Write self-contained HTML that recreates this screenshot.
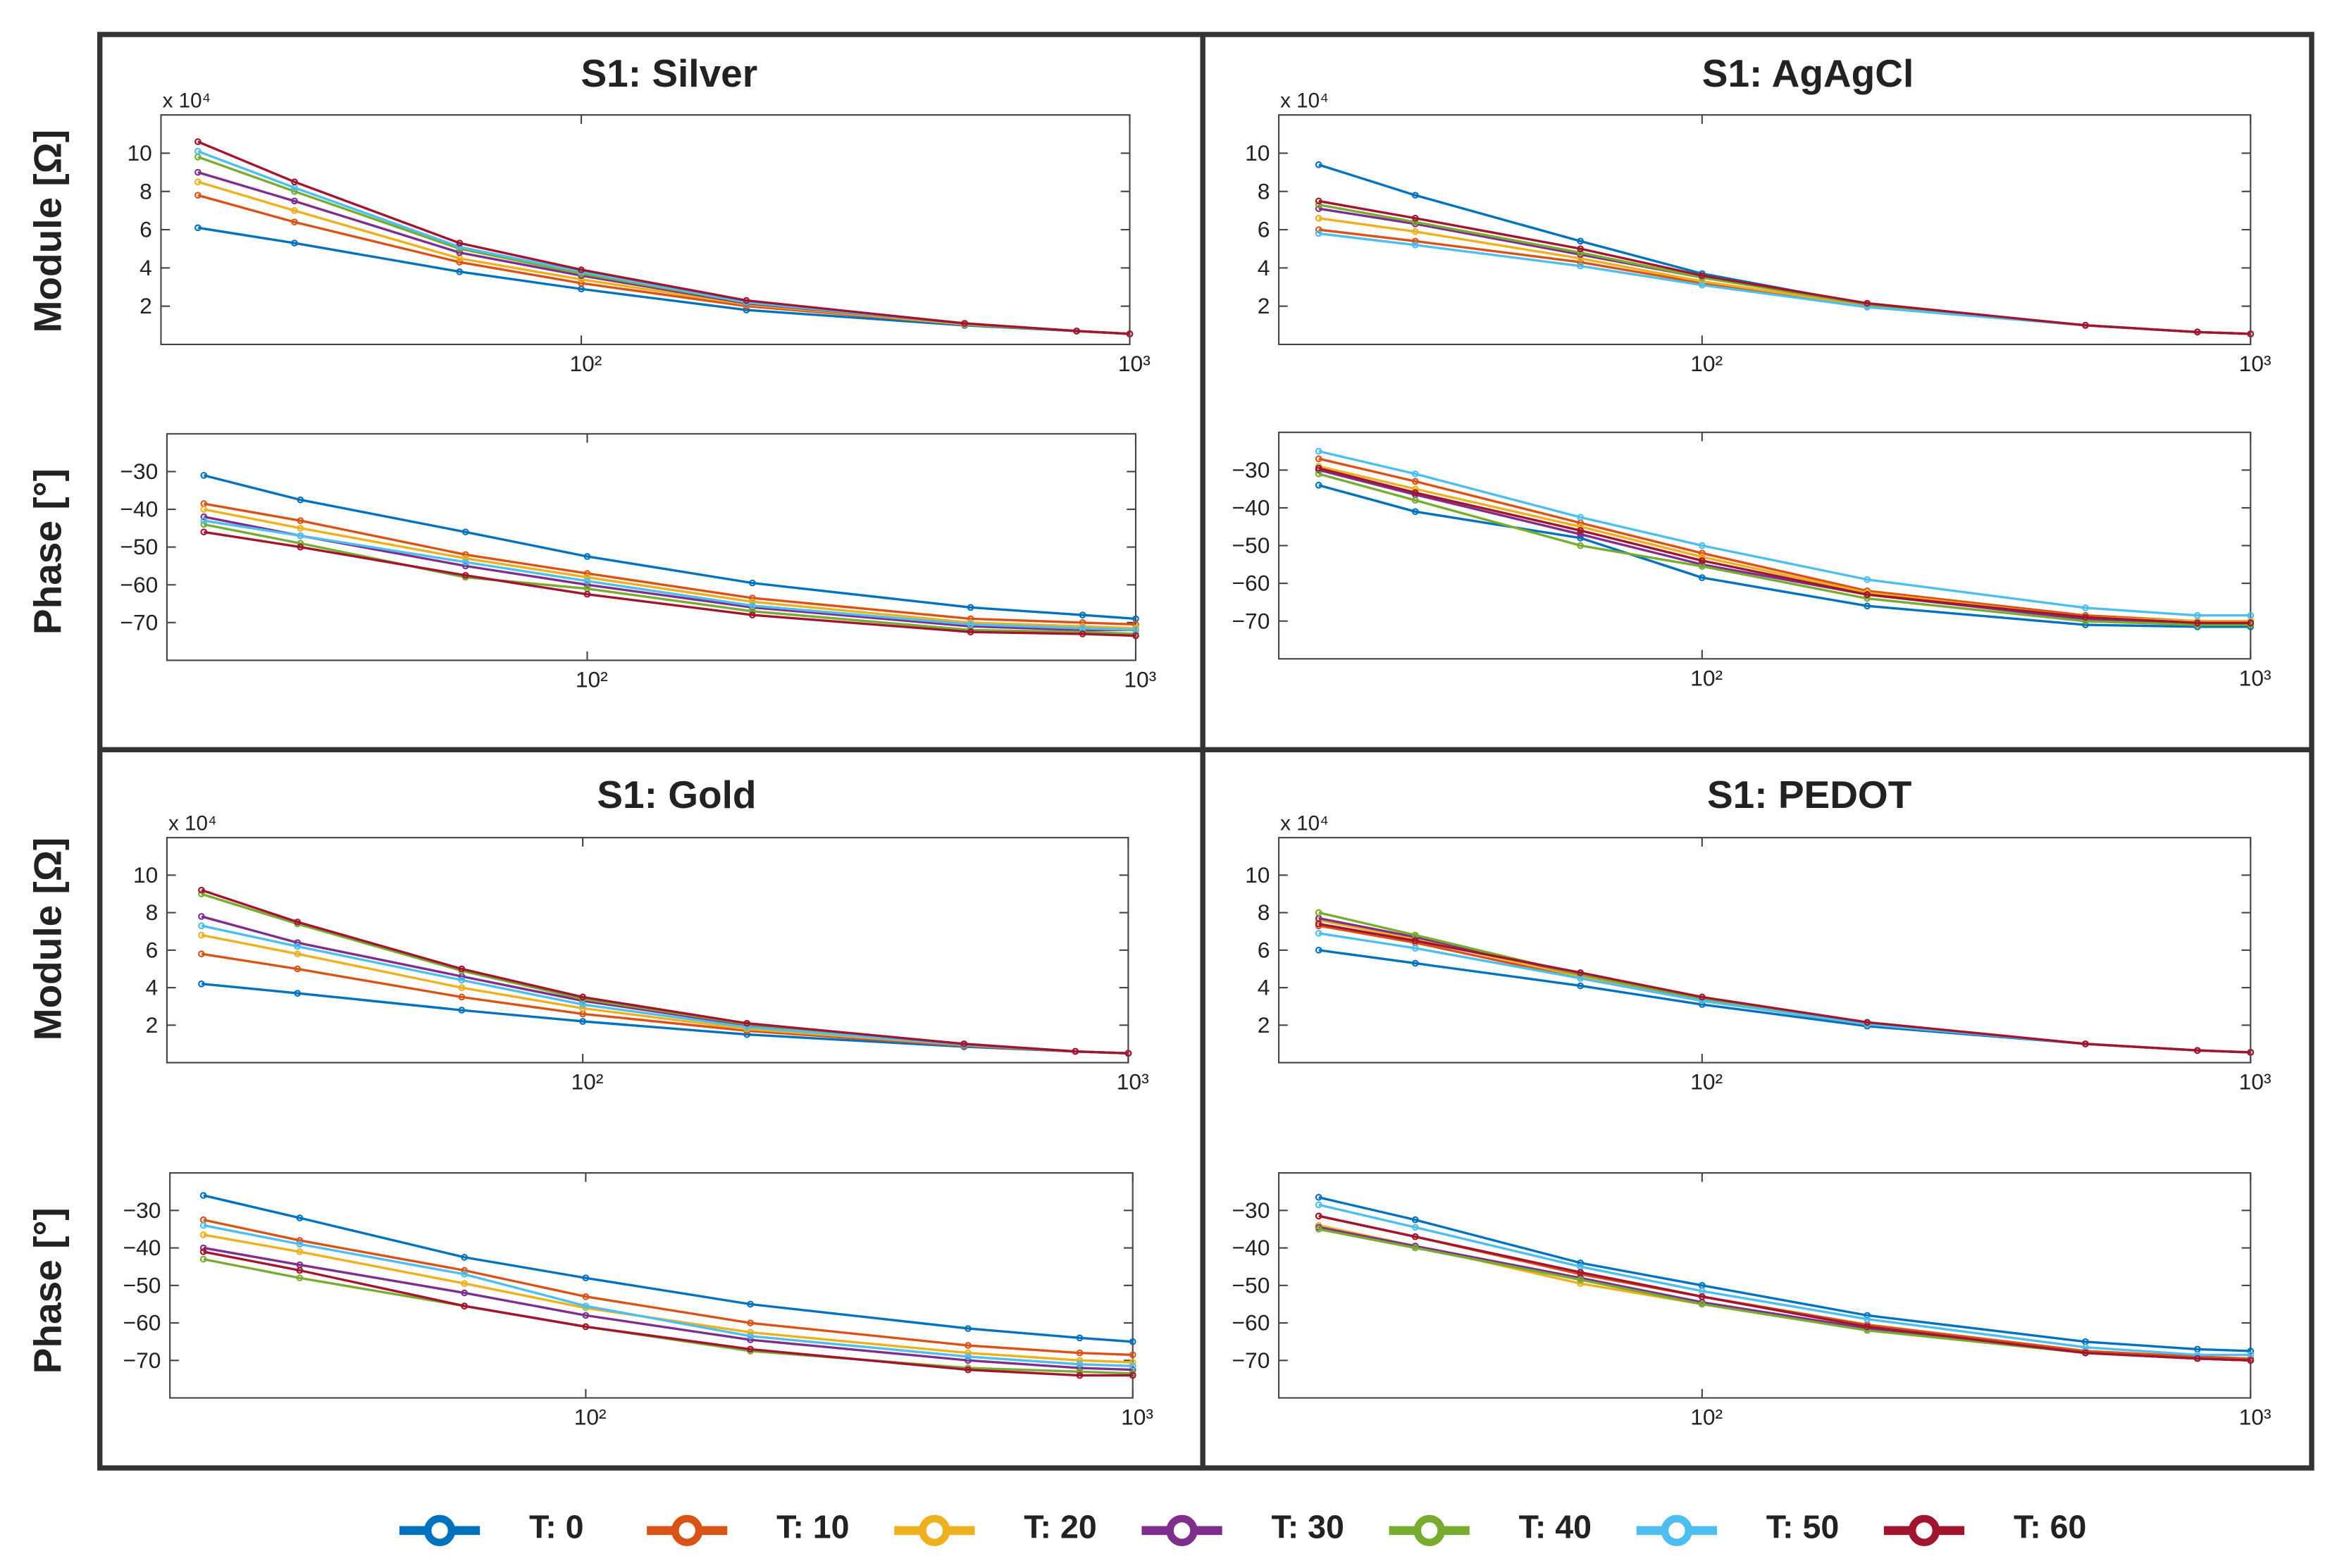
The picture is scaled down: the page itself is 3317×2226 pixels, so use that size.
<!DOCTYPE html>
<html><head><meta charset="utf-8"><style>
html,body{margin:0;padding:0;background:#fff;}
svg{display:block;font-family:"Liberation Sans",sans-serif;}
</style></head><body>
<svg id="chart" width="3317" height="2226" viewBox="0 0 1568 1052" xmlns="http://www.w3.org/2000/svg">
<rect x="0" y="0" width="1568" height="1052" fill="#fff"/>
<g id="frame" fill="none" stroke="#333" stroke-width="3.5">
<rect x="67" y="23" width="1484" height="962"/>
<line x1="807" y1="23" x2="807" y2="985"/>
<line x1="67" y1="503" x2="1551" y2="503"/>
</g>
<g id="plots"></g>
<g id="legend"></g>
</svg>
<script>
const freqs = [20, 30, 60, 100, 200, 500, 800, 1000];
const seriesNames = ["T: 0","T: 10","T: 20","T: 30","T: 40","T: 50","T: 60"];
const colors = ["#0072BD","#D95319","#EDB120","#7E2F8E","#77AC30","#4DBEEE","#A2142F"];
const moduleTicks = [2,4,6,8,10];
const phaseTicks = [-30,-40,-50,-60,-70];
const xTicks = [100, 1000];
const xTickLabels = ["10²","10³"];

const silverModule = [
[6.1,5.3,3.8,2.9,1.8,1.0,0.7,0.55],
[7.8,6.4,4.3,3.2,2.0,1.05,0.7,0.55],
[8.5,7.0,4.5,3.4,2.1,1.05,0.7,0.55],
[9.0,7.5,4.8,3.6,2.15,1.1,0.7,0.55],
[9.8,8.0,5.0,3.7,2.2,1.1,0.7,0.55],
[10.1,8.2,5.1,3.8,2.2,1.1,0.7,0.55],
[10.6,8.5,5.3,3.9,2.3,1.1,0.7,0.55]];
const silverPhase = [
[-31,-37.5,-46,-52.5,-59.5,-66,-68,-69],
[-38.5,-43,-52,-57,-63.5,-69,-70,-70.5],
[-40,-45,-53,-58,-64.5,-70,-71,-71.5],
[-42,-47,-55,-60,-66,-71,-72,-72],
[-44,-49,-58,-61,-67,-72,-72.5,-73],
[-43,-47,-54,-59,-65.5,-70.5,-71.5,-72],
[-46,-50,-57.5,-62.5,-68,-72.5,-73,-73.5]];
const agModule = [
[9.4,7.8,5.4,3.7,2.1,1.0,0.65,0.55],
[6.0,5.4,4.3,3.2,2.0,1.0,0.65,0.55],
[6.6,5.9,4.5,3.3,2.05,1.0,0.65,0.55],
[7.1,6.3,4.7,3.5,2.1,1.0,0.65,0.55],
[7.3,6.4,4.8,3.5,2.1,1.0,0.65,0.55],
[5.8,5.2,4.1,3.1,1.95,1.0,0.65,0.55],
[7.5,6.6,5.0,3.6,2.15,1.0,0.65,0.55]];
const agPhase = [
[-34,-41,-48,-58.5,-66,-71,-71.5,-71.5],
[-27,-33,-44,-52,-62,-68.5,-70,-70],
[-29,-35,-45,-53,-62.5,-69,-70,-70],
[-30,-36.5,-47,-55,-63,-69.5,-70.5,-70.5],
[-31,-38,-50,-55.5,-64,-70,-71,-71],
[-25,-31,-42.5,-50,-59,-66.5,-68.5,-68.5],
[-29.5,-36,-46,-54,-63,-69,-70.5,-70.5]];
const goldModule = [
[4.2,3.7,2.8,2.2,1.5,0.85,0.6,0.5],
[5.8,5.0,3.5,2.6,1.7,0.9,0.6,0.5],
[6.8,5.8,4.0,2.9,1.8,0.95,0.6,0.5],
[7.8,6.4,4.6,3.3,2.0,1.0,0.6,0.5],
[9.0,7.4,4.9,3.4,2.05,1.0,0.6,0.5],
[7.3,6.2,4.4,3.1,1.9,0.95,0.6,0.5],
[9.2,7.5,5.0,3.5,2.1,1.0,0.6,0.5]];
const goldPhase = [
[-26,-32,-42.5,-48,-55,-61.5,-64,-65],
[-32.5,-38,-46,-53,-60,-66,-68,-68.5],
[-36.5,-41,-49.5,-56,-62.5,-68,-70,-70.5],
[-40,-44.5,-52,-58,-64.5,-70,-72,-72.5],
[-43,-48,-55.5,-61,-67.5,-72,-73,-73.5],
[-34,-39,-47,-55.5,-63.5,-69,-71,-71.5],
[-41,-46,-55.5,-61,-67,-72.5,-74,-74]];
const pedotModule = [
[6.0,5.3,4.1,3.1,1.95,1.0,0.65,0.55],
[7.3,6.4,4.5,3.3,2.05,1.0,0.65,0.55],
[7.6,6.6,4.6,3.4,2.1,1.0,0.65,0.55],
[7.7,6.7,4.7,3.4,2.1,1.0,0.65,0.55],
[8.0,6.8,4.7,3.4,2.1,1.0,0.65,0.55],
[6.9,6.1,4.5,3.3,2.05,1.0,0.65,0.55],
[7.4,6.5,4.8,3.5,2.15,1.0,0.65,0.55]];
const pedotPhase = [
[-26.5,-32.5,-44,-50,-58,-65,-67,-67.5],
[-31.5,-37,-47,-53,-60.5,-67.5,-69,-69.5],
[-34,-39.5,-49.5,-55,-61.5,-68,-69.5,-70],
[-34.5,-39.5,-48,-54.5,-61.5,-68,-69.5,-70],
[-35,-40,-48.5,-55,-62,-68,-69.5,-70],
[-28.5,-34.5,-45,-51.5,-59,-66.5,-68.5,-68.5],
[-31.5,-37,-46.5,-53,-61,-68,-69.5,-70]];

const NS="http://www.w3.org/2000/svg";
function mk(tag, attrs, parent){const e=document.createElementNS(NS,tag);for(const k in attrs)e.setAttribute(k,attrs[k]);if(parent)parent.appendChild(e);return e;}
const root=document.getElementById('plots');

const axesDefs=[
{name:"silver-module",data:silverModule,box:[108,77,758,231],x100:390,dec:368,ymin:0,ymax:12,ticks:moduleTicks,exp:true},
{name:"silver-phase",data:silverPhase,box:[112,291,762,443],x100:394,dec:368,ymin:-80,ymax:-20,ticks:phaseTicks},
{name:"agagcl-module",data:agModule,box:[858,77,1510,231],x100:1142,dec:368,ymin:0,ymax:12,ticks:moduleTicks,exp:true},
{name:"agagcl-phase",data:agPhase,box:[858,290,1510,442],x100:1142,dec:368,ymin:-80,ymax:-20,ticks:phaseTicks},
{name:"gold-module",data:goldModule,box:[112,562,757,713],x100:391,dec:366,ymin:0,ymax:12,ticks:moduleTicks,exp:true},
{name:"gold-phase",data:goldPhase,box:[114,787,760,938],x100:393,dec:367,ymin:-80,ymax:-20,ticks:phaseTicks},
{name:"pedot-module",data:pedotModule,box:[858,562,1510,713],x100:1142,dec:368,ymin:0,ymax:12,ticks:moduleTicks,exp:true},
{name:"pedot-phase",data:pedotPhase,box:[858,787,1510,938],x100:1142,dec:368,ymin:-80,ymax:-20,ticks:phaseTicks}];

axesDefs.forEach(a=>{
  const [x0,y0,x1,y1]=a.box;
  const g=mk('g',{},root);
  
  
  const xs=f=>a.x100+(Math.log10(f)-2)*a.dec;
  const ys=v=>y1-(v-a.ymin)/(a.ymax-a.ymin)*(y1-y0);
  mk('rect',{x:x0,y:y0,width:x1-x0,height:y1-y0,fill:"none",stroke:"#444","stroke-width":1},g);
  a.ticks.forEach(t=>{
    const y=ys(t);
    mk('line',{x1:x0,y1:y,x2:x0+6,y2:y,stroke:"#444","stroke-width":1},g);
    mk('line',{x1:x1,y1:y,x2:x1-6,y2:y,stroke:"#444","stroke-width":1},g);
    const tx=mk('text',{x:x0-6,y:y+5,"text-anchor":"end","font-size":15,fill:"#222"},g);
    tx.textContent=(t<0?"\u2212"+(-t):t);
    
    
  });
  xTicks.forEach((f,i)=>{
    const x=Math.min(xs(f),x1);
    mk('line',{x1:x,y1:y1,x2:x,y2:y1-6,stroke:"#444","stroke-width":1},g);
    mk('line',{x1:x,y1:y0,x2:x,y2:y0+6,stroke:"#444","stroke-width":1},g);
    const tx=mk('text',{x:xs(f)+3,y:y1+18,"text-anchor":"middle","font-size":15,fill:"#222"},g);
    tx.textContent=xTickLabels[i];
    
    
  });
  if(a.exp){
    const tx=mk('text',{x:x0+1,y:y0-5,"font-size":14,fill:"#222"},g);
    tx.textContent="x 10⁴";
    
    
  }
  a.data.forEach((s,si)=>{
    const pts=s.map((v,i)=>xs(freqs[i]).toFixed(1)+","+ys(v).toFixed(1)).join(" ");
    const pl=mk('polyline',{points:pts,fill:"none",stroke:colors[si],"stroke-width":1.6},g);
    
    
    s.forEach((v,i)=>{
      const c=mk('circle',{cx:xs(freqs[i]),cy:ys(v),r:1.8,fill:"none",stroke:colors[si],"stroke-width":1},g);
      
      
    });
  });
});

const titles=[["S1: Silver",449,58],["S1: AgAgCl",1213,58],["S1: Gold",454,542],["S1: PEDOT",1214,542]];
titles.forEach(t=>{
  const tx=mk('text',{x:t[1],y:t[2],"text-anchor":"middle","font-size":26,"font-weight":"bold",fill:"#222"},root);
  tx.textContent=t[0];
  
  
});
const ylabels=[["Module [Ω]",155],["Phase [°]",370],["Module [Ω]",630],["Phase [°]",866]];
ylabels.forEach(t=>{
  const tx=mk('text',{x:0,y:0,"text-anchor":"middle","font-size":26,"font-weight":"bold",fill:"#222",transform:"translate(41,"+t[1]+") rotate(-90)"},root);
  tx.textContent=t[0];
  
  
});

const lg=document.getElementById('legend');
seriesNames.forEach((n,i)=>{
  const x=268+i*166;
  const g=mk('g',{},lg);
  
  
  mk('line',{x1:x,y1:1027,x2:x+54,y2:1027,stroke:colors[i],"stroke-width":6},g);
  mk('circle',{cx:x+27,cy:1027,r:8,fill:"#fff",stroke:colors[i],"stroke-width":5},g);
  const tx=mk('text',{x:x+87,y:1032,"font-size":22,"font-weight":"bold",fill:"#222"},g);
  tx.textContent=n;
});
</script>
</body></html>
